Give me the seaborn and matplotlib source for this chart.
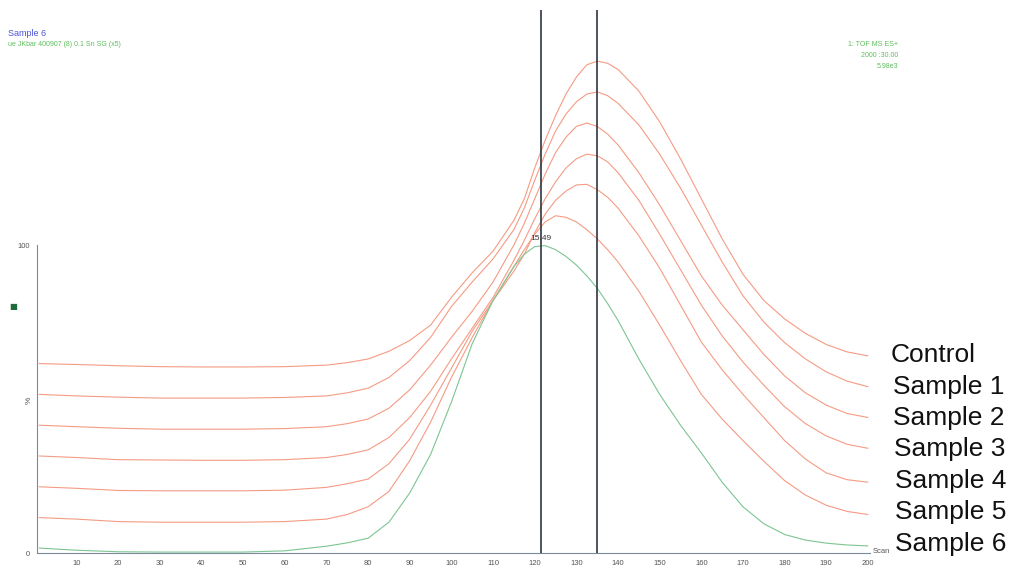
import matplotlib
matplotlib.use("Agg")
import matplotlib.pyplot as plt
import seaborn as sns
import numpy as np
import pandas as pd

# scan numbers shared by every trace
scan = [1, 10, 20, 30, 40, 50, 60, 70, 75, 80, 85, 90, 95, 100, 105, 110, 115, 117.5,
        120, 122.5, 125, 127.5, 130, 132.5, 135, 137.5, 140, 145, 150, 155, 160, 165,
        170, 175, 180, 185, 190, 195, 200]

# displayed (stacked) intensity in %
control = [61.5, 61.2, 60.8, 60.5, 60.4, 60.4, 60.5, 61.0, 61.8, 63.0, 65.5, 69.0, 74.0,
           83.0, 91.0, 98.0, 108.0, 115.0, 125.0, 134.0, 142.0, 149.0, 154.5, 158.5,
           159.7, 159.0, 157.0, 150.0, 140.0, 128.0, 115.0, 102.0, 90.5, 82.0, 76.0,
           71.3, 67.7, 65.3, 64.0]
sample1 = [51.5, 51.0, 50.6, 50.3, 50.3, 50.3, 50.5, 51.0, 52.0, 53.5, 57.0, 62.5, 70.0,
           80.0, 88.0, 95.5, 105.0, 112.0, 121.0, 129.5, 137.0, 142.5, 146.5, 149.0,
           149.7, 148.5, 146.0, 139.0, 129.5, 118.5, 106.5, 94.5, 83.5, 75.0, 68.3,
           63.0, 58.8, 55.8, 54.0]
sample2 = [41.5, 41.0, 40.5, 40.2, 40.2, 40.2, 40.4, 41.0, 42.0, 43.5, 47.0, 53.0, 61.0,
           70.0, 78.5, 88.0, 100.0, 107.0, 115.0, 123.0, 130.0, 135.0, 138.5, 139.6,
           138.5, 136.0, 132.5, 123.5, 113.0, 101.5, 90.0, 80.5, 72.5, 64.5, 57.5,
           52.0, 48.0, 45.3, 44.0]
sample3 = [31.5, 31.0, 30.3, 30.2, 30.1, 30.1, 30.3, 31.0, 32.0, 33.5, 37.5, 44.0, 52.5,
           63.0, 73.0, 83.0, 95.0, 101.5, 108.5, 115.0, 120.5, 125.0, 128.0, 129.5,
           129.0, 127.0, 123.5, 114.5, 103.5, 92.0, 80.5, 70.5, 62.0, 54.5, 47.5,
           42.0, 38.0, 35.3, 34.0]
sample4 = [21.5, 21.0, 20.3, 20.2, 20.2, 20.2, 20.4, 21.3, 22.5, 24.0, 29.0, 37.0, 48.0,
           60.0, 72.0, 82.0, 91.5, 97.0, 104.0, 110.0, 114.5, 117.5, 119.5, 119.7,
           118.0, 115.5, 112.0, 103.0, 92.5, 80.5, 68.5, 59.5, 51.5, 44.0, 36.5,
           30.5, 26.0, 23.8, 23.0]
sample5 = [11.5, 11.0, 10.2, 10.0, 10.0, 10.0, 10.2, 11.0, 12.5, 15.0, 20.0, 30.0, 42.5,
           57.0, 70.0, 82.0, 93.0, 98.5, 103.5, 107.5, 109.5, 109.0, 107.5, 105.0,
           102.0, 98.5, 94.5, 85.0, 74.0, 62.5, 51.5, 43.5, 36.5, 29.8, 23.5,
           18.8, 15.5, 13.5, 12.5]
sample6 = [1.6, 0.9, 0.4, 0.3, 0.3, 0.3, 0.7, 2.2, 3.3, 4.8, 10.0, 19.5, 32.0,
           49.0, 68.0, 82.0, 93.0, 97.0, 99.5, 99.8, 98.5, 96.3, 93.5, 90.0,
           86.0, 81.0, 75.5, 63.0, 51.5, 41.5, 32.5, 23.0, 15.0, 9.5, 6.0,
           4.2, 3.2, 2.6, 2.3]

names = ["Control", "Sample 1", "Sample 2", "Sample 3", "Sample 4", "Sample 5", "Sample 6"]
traces = [control, sample1, sample2, sample3, sample4, sample5, sample6]
markers_at = [121.5, 135]   # scan positions of the two cursor lines
apex_label = "15.49"

df = pd.concat([pd.DataFrame({"scan": scan, "pct": t, "trace": n})
                for n, t in zip(names, traces)], ignore_index=True)

red = "#f59b84"
green = "#7cc592"
palette = {n: red for n in names[:-1]}
palette["Sample 6"] = green

sns.set_style("white")
plt.rcParams["font.family"] = ["Liberation Sans", "DejaVu Sans"]

fig = plt.figure(figsize=(10.16, 5.73), dpi=100)
ax = fig.add_axes([37 / 1016, 20 / 573, 833 / 1016, 543 / 573])

sns.lineplot(data=df, x="scan", y="pct", hue="trace", palette=palette,
             linewidth=0.8, legend=False, ax=ax, sort=True)

for m in markers_at:
    ax.axvline(m, color="#2f3640", lw=1.2, zorder=5)

ax.set_xlim(0.5, 200.5)
ax.set_ylim(0, 176.3)
ax.set_xlabel("")
ax.set_ylabel("")

axis_col = "#7d8a9c"
for s in ["top", "right"]:
    ax.spines[s].set_visible(False)
ax.spines["left"].set_bounds(0, 100)
ax.spines["left"].set_color(axis_col)
ax.spines["bottom"].set_color(axis_col)
ax.spines["left"].set_linewidth(0.8)
ax.spines["bottom"].set_linewidth(0.8)

ax.set_xticks(range(10, 201, 10))
ax.set_xticks(range(2, 201, 2), minor=True)
ax.set_yticks([0, 100])
ax.set_yticks(range(10, 100, 10), minor=True)
ax.tick_params(axis="both", which="major", length=3, width=0.6, color=axis_col,
               labelsize=5.5, labelcolor="#555555", pad=2)
ax.tick_params(axis="both", which="minor", length=1.8, width=0.5, color=axis_col)

ax.text(121.5, 101.0, apex_label, ha="center", va="bottom", fontsize=6, color="#333333")
ax.text(-0.009, 49.5, "%", transform=ax.get_yaxis_transform(), ha="center", va="center",
        rotation=90, fontsize=6, color="#555555")
ax.text(1.003, 0.002, "Scan", transform=ax.transAxes, ha="left", va="center",
        fontsize=5.5, color="#555555")

# header texts
fig.text(8 / 1016, 1 - 33 / 573, "Sample 6", color="#4a55d6", fontsize=6.5, va="center")
fig.text(8 / 1016, 1 - 45 / 573, "ue JKbar 400907 (8) 0.1 Sn SG (x5)", color="#5cbf5c",
         fontsize=5, va="center")
for i, line in enumerate(["1: TOF MS ES+", "2000 :30.00", "5.98e3"]):
    fig.text(898 / 1016, 1 - (45 + 10.5 * i) / 573, line, color="#5cbf5c", fontsize=5,
             ha="right", va="center")
fig.text(13 / 1016, 1 - 307 / 573, "\u25a0", color="#1e6b3c", fontsize=6,
         ha="center", va="center", family="DejaVu Sans")

# trace labels on the right
label_y = [355, 387, 418, 449, 481, 512, 544]
label_x = [891, 893, 893, 894, 895, 895, 895]
for n, lx, ly in zip(names, label_x, label_y):
    fig.text(lx / 1016, 1 - ly / 573, n, fontsize=19, color="#111111",
             ha="left", va="center")

fig.savefig("out.png", dpi=100)
